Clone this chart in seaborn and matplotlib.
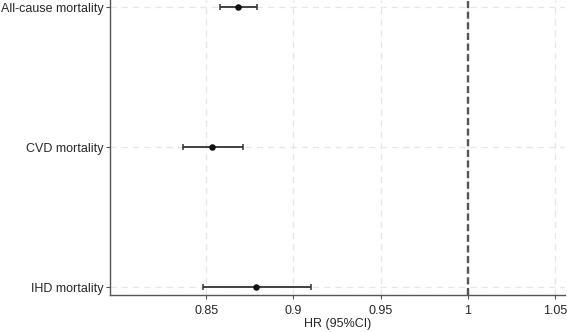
import numpy as np
import pandas as pd
import matplotlib
matplotlib.use("Agg")
import matplotlib.pyplot as plt
import seaborn as sns

# Hazard ratios
outcomes = ["All-cause mortality", "CVD mortality", "IHD mortality"]
hr = [0.868, 0.8534, 0.8784]
ci_low = [0.8578, 0.8366, 0.848]
ci_high = [0.8792, 0.871, 0.910]
x_ticks = [0.85, 0.9, 0.95, 1.0, 1.05]
x_tick_labels = ["0.85", "0.9", "0.95", "1", "1.05"]

sns.set_style("white")
plt.rcParams["font.family"] = ["Liberation Sans", "DejaVu Sans"]

df = pd.DataFrame({"outcome": outcomes, "hr": hr, "lo": ci_low, "hi": ci_high})
df["pos"] = np.arange(len(df))[::-1]

fig, ax = plt.subplots(figsize=(5.67, 3.32), dpi=100)

# grid
for t in x_ticks:
    ax.axvline(t, color="#e6e6e6", lw=0.9, ls=(0, (5, 4)), zorder=0)
for p in df["pos"]:
    ax.axhline(p, color="#e6e6e6", lw=0.9, ls=(0, (5, 4)), zorder=0)

ax.axvline(1.0, color="#555555", lw=1.7, ls=(0, (3, 1.5)), zorder=1)

ax.errorbar(df["hr"], df["pos"],
            xerr=[df["hr"] - df["lo"], df["hi"] - df["hr"]],
            fmt="none", ecolor="#333333", elinewidth=1.3, capsize=2.5, capthick=1.1, zorder=2)
sns.scatterplot(data=df, x="hr", y="pos", color="#111111", s=22, edgecolor="#111111",
                linewidth=0, zorder=3, ax=ax)

ax.set_xlim(0.795, 1.0555)
ax.set_ylim(-0.057, 2.05)
ax.set_xticks(x_ticks)
ax.set_xticklabels(x_tick_labels)
ax.set_yticks(df["pos"])
ax.set_yticklabels(df["outcome"])
ax.set_xlabel("HR (95%CI)", fontsize=9, labelpad=1)
ax.set_ylabel("")
ax.tick_params(axis="both", labelsize=9, length=3, width=0.8, color="#555555")
ax.tick_params(axis="y", pad=1.5)
ax.tick_params(axis="x", pad=4)
ax.tick_params(axis="both", bottom=True, left=True)

for s in ["top", "right"]:
    ax.spines[s].set_visible(False)
for s in ["left", "bottom"]:
    ax.spines[s].set_color("#555555")
    ax.spines[s].set_linewidth(1.0)

fig.subplots_adjust(left=110 / 567, right=565 / 567, bottom=1 - 295 / 332, top=1.0)
fig.savefig("out.png", dpi=100)
